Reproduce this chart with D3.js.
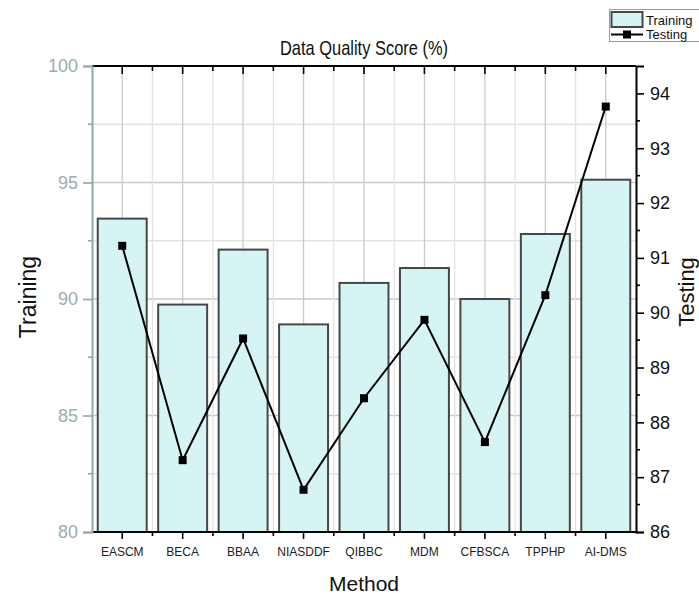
<!DOCTYPE html>
<html>
<head>
<meta charset="utf-8">
<script src="https://cdn.jsdelivr.net/npm/d3@7"></script>
<style>
  html, body { margin: 0; padding: 0; background: #fff; }
  svg { display: block; font-family: "Liberation Sans", Arial, sans-serif; }
</style>
</head>
<body>
<svg id="chart" width="699" height="595"></svg>
<script>
// Data quality scores per method
const methods = ["EASCM", "BECA", "BBAA", "NIASDDF", "QIBBC", "MDM", "CFBSCA", "TPPHP", "AI-DMS"];
const trainingScores = [93.45, 89.76, 92.12, 88.91, 90.69, 91.33, 90.0, 92.79, 95.12];
const testingScores = [91.22, 87.31, 89.53, 86.77, 88.44, 89.87, 87.64, 90.32, 93.76];
const trainingTicks = [80, 85, 90, 95, 100];
const testingTicks = [86, 87, 88, 89, 90, 91, 92, 93, 94];

const svg = d3.select("#chart");
const L = 92, R = 636, T = 66, B = 532;

const x = d3.scaleBand().domain(methods).range([L, R]).padding(0);
const yL = d3.scaleLinear().domain([80, 100]).range([B, T]);
const yR = d3.scaleLinear().domain([86, 94.5]).range([B, T]);

const gridMajor = "#c9c9c9", gridMinor = "#e3e3e3";
const leftColor = "#93a7a7";

// grid: horizontal lines every 2.5 on the training axis
const hGrid = d3.range(82.5, 100, 2.5);
svg.append("g").selectAll("line").data(hGrid).join("line")
  .attr("x1", L).attr("x2", R)
  .attr("y1", d => yL(d)).attr("y2", d => yL(d))
  .attr("stroke", d => d % 5 === 0 ? gridMajor : gridMinor)
  .attr("stroke-width", 1.3);

// grid: vertical lines at category centres and boundaries
const bounds = methods.slice(1).map(m => x(m));
svg.append("g").selectAll("line").data(bounds).join("line")
  .attr("x1", d => d).attr("x2", d => d).attr("y1", T).attr("y2", B)
  .attr("stroke", gridMinor).attr("stroke-width", 1.3);
svg.append("g").selectAll("line").data(methods).join("line")
  .attr("x1", d => x(d) + x.bandwidth() / 2).attr("x2", d => x(d) + x.bandwidth() / 2)
  .attr("y1", T).attr("y2", B)
  .attr("stroke", gridMajor).attr("stroke-width", 1.3);

// training bars
const barW = x.bandwidth() * 0.81;
svg.append("g").selectAll("rect").data(methods).join("rect")
  .attr("x", d => x(d) + (x.bandwidth() - barW) / 2)
  .attr("y", (d, i) => yL(trainingScores[i]))
  .attr("width", barW)
  .attr("height", (d, i) => B - yL(trainingScores[i]))
  .attr("fill", "#d6f4f4")
  .attr("stroke", "#474747")
  .attr("stroke-width", 2);

// testing line with square markers
const cx = d => x(d) + x.bandwidth() / 2;
const line = d3.line().x((d, i) => cx(methods[i])).y(d => yR(d));
svg.append("path").datum(testingScores)
  .attr("d", line).attr("fill", "none")
  .attr("stroke", "#000").attr("stroke-width", 2);
svg.append("g").selectAll("rect").data(testingScores).join("rect")
  .attr("x", (d, i) => cx(methods[i]) - 4)
  .attr("y", d => yR(d) - 4)
  .attr("width", 8).attr("height", 8)
  .attr("fill", "#000");

// bottom axis
const bottom = svg.append("g").attr("transform", `translate(0,${B})`)
  .call(d3.axisBottom(x).tickSize(7).tickPadding(8));
bottom.select(".domain").remove();
bottom.selectAll(".tick line").attr("stroke", "#000").attr("stroke-width", 1.6);
bottom.selectAll(".tick text").attr("font-size", 12).attr("fill", "#222")
  .attr("font-family", "Liberation Sans, Arial, sans-serif");
svg.append("g").selectAll("line").data(bounds).join("line")
  .attr("x1", d => d).attr("x2", d => d).attr("y1", B).attr("y2", B + 4)
  .attr("stroke", "#000").attr("stroke-width", 1.6);
svg.append("line").attr("x1", L).attr("x2", R).attr("y1", B).attr("y2", B)
  .attr("stroke", "#000").attr("stroke-width", 2);

// top frame with inward ticks
svg.append("g").selectAll("line").data(methods).join("line")
  .attr("x1", cx).attr("x2", cx).attr("y1", T).attr("y2", T + 8)
  .attr("stroke", "#000").attr("stroke-width", 1.6);
svg.append("g").selectAll("line").data(bounds).join("line")
  .attr("x1", d => d).attr("x2", d => d).attr("y1", T).attr("y2", T + 5)
  .attr("stroke", "#000").attr("stroke-width", 1.6);
svg.append("line").attr("x1", L).attr("x2", R).attr("y1", T).attr("y2", T)
  .attr("stroke", "#000").attr("stroke-width", 2);

// left axis (training)
const left = svg.append("g").attr("transform", `translate(${L},0)`)
  .call(d3.axisLeft(yL).tickValues(trainingTicks).tickSize(9).tickPadding(5));
left.select(".domain").attr("stroke", leftColor).attr("stroke-width", 2);
left.selectAll(".tick line").attr("stroke", leftColor).attr("stroke-width", 1.6);
left.selectAll(".tick text").attr("font-size", 18).attr("fill", "#9cadad")
  .attr("font-family", "Liberation Sans, Arial, sans-serif");
svg.append("g").selectAll("line").data([82.5, 87.5, 92.5, 97.5]).join("line")
  .attr("x1", L - 4).attr("x2", L).attr("y1", d => yL(d)).attr("y2", d => yL(d))
  .attr("stroke", leftColor).attr("stroke-width", 1.6);

// right axis (testing)
const right = svg.append("g").attr("transform", `translate(${R},0)`)
  .call(d3.axisRight(yR).tickValues(testingTicks).tickSize(8).tickPadding(6));
right.select(".domain").attr("stroke", "#000").attr("stroke-width", 2);
right.selectAll(".tick line").attr("stroke", "#000").attr("stroke-width", 1.6);
right.selectAll(".tick text").attr("font-size", 18).attr("fill", "#111")
  .attr("font-family", "Liberation Sans, Arial, sans-serif");
svg.append("g").selectAll("line").data(d3.range(86.5, 94.5, 1)).join("line")
  .attr("x1", R).attr("x2", R + 4).attr("y1", d => yR(d)).attr("y2", d => yR(d))
  .attr("stroke", "#000").attr("stroke-width", 1.6);

// titles
svg.append("text").attr("x", 364).attr("y", 55).attr("text-anchor", "middle")
  .attr("font-size", 21).attr("fill", "#111")
  .attr("textLength", 168).attr("lengthAdjust", "spacingAndGlyphs")
  .text("Data Quality Score (%)");
svg.append("text").attr("x", 364).attr("y", 591).attr("text-anchor", "middle")
  .attr("font-size", 21).attr("fill", "#111").text("Method");
svg.append("text").attr("transform", "translate(36,297) rotate(-90)")
  .attr("text-anchor", "middle").attr("font-size", 23).attr("fill", "#111").text("Training");
svg.append("text").attr("transform", "translate(694,292) rotate(-90)")
  .attr("text-anchor", "middle").attr("font-size", 22).attr("fill", "#111").text("Testing");

// legend
const lg = svg.append("g");
lg.append("rect").attr("x", 609.5).attr("y", 9.5).attr("width", 100).attr("height", 32)
  .attr("fill", "#fff").attr("stroke", "#9a9a9a").attr("stroke-width", 1);
lg.append("rect").attr("x", 611.5).attr("y", 12).attr("width", 31).attr("height", 15)
  .attr("fill", "#d6f4f4").attr("stroke", "#474747").attr("stroke-width", 2);
lg.append("text").attr("x", 646).attr("y", 25).attr("font-size", 13).attr("fill", "#111").text("Training");
lg.append("line").attr("x1", 611).attr("x2", 643).attr("y1", 34.5).attr("y2", 34.5)
  .attr("stroke", "#000").attr("stroke-width", 2);
lg.append("rect").attr("x", 623).attr("y", 30.5).attr("width", 8).attr("height", 8).attr("fill", "#000");
lg.append("text").attr("x", 646).attr("y", 39).attr("font-size", 13).attr("fill", "#111").text("Testing");
</script>
</body>
</html>
